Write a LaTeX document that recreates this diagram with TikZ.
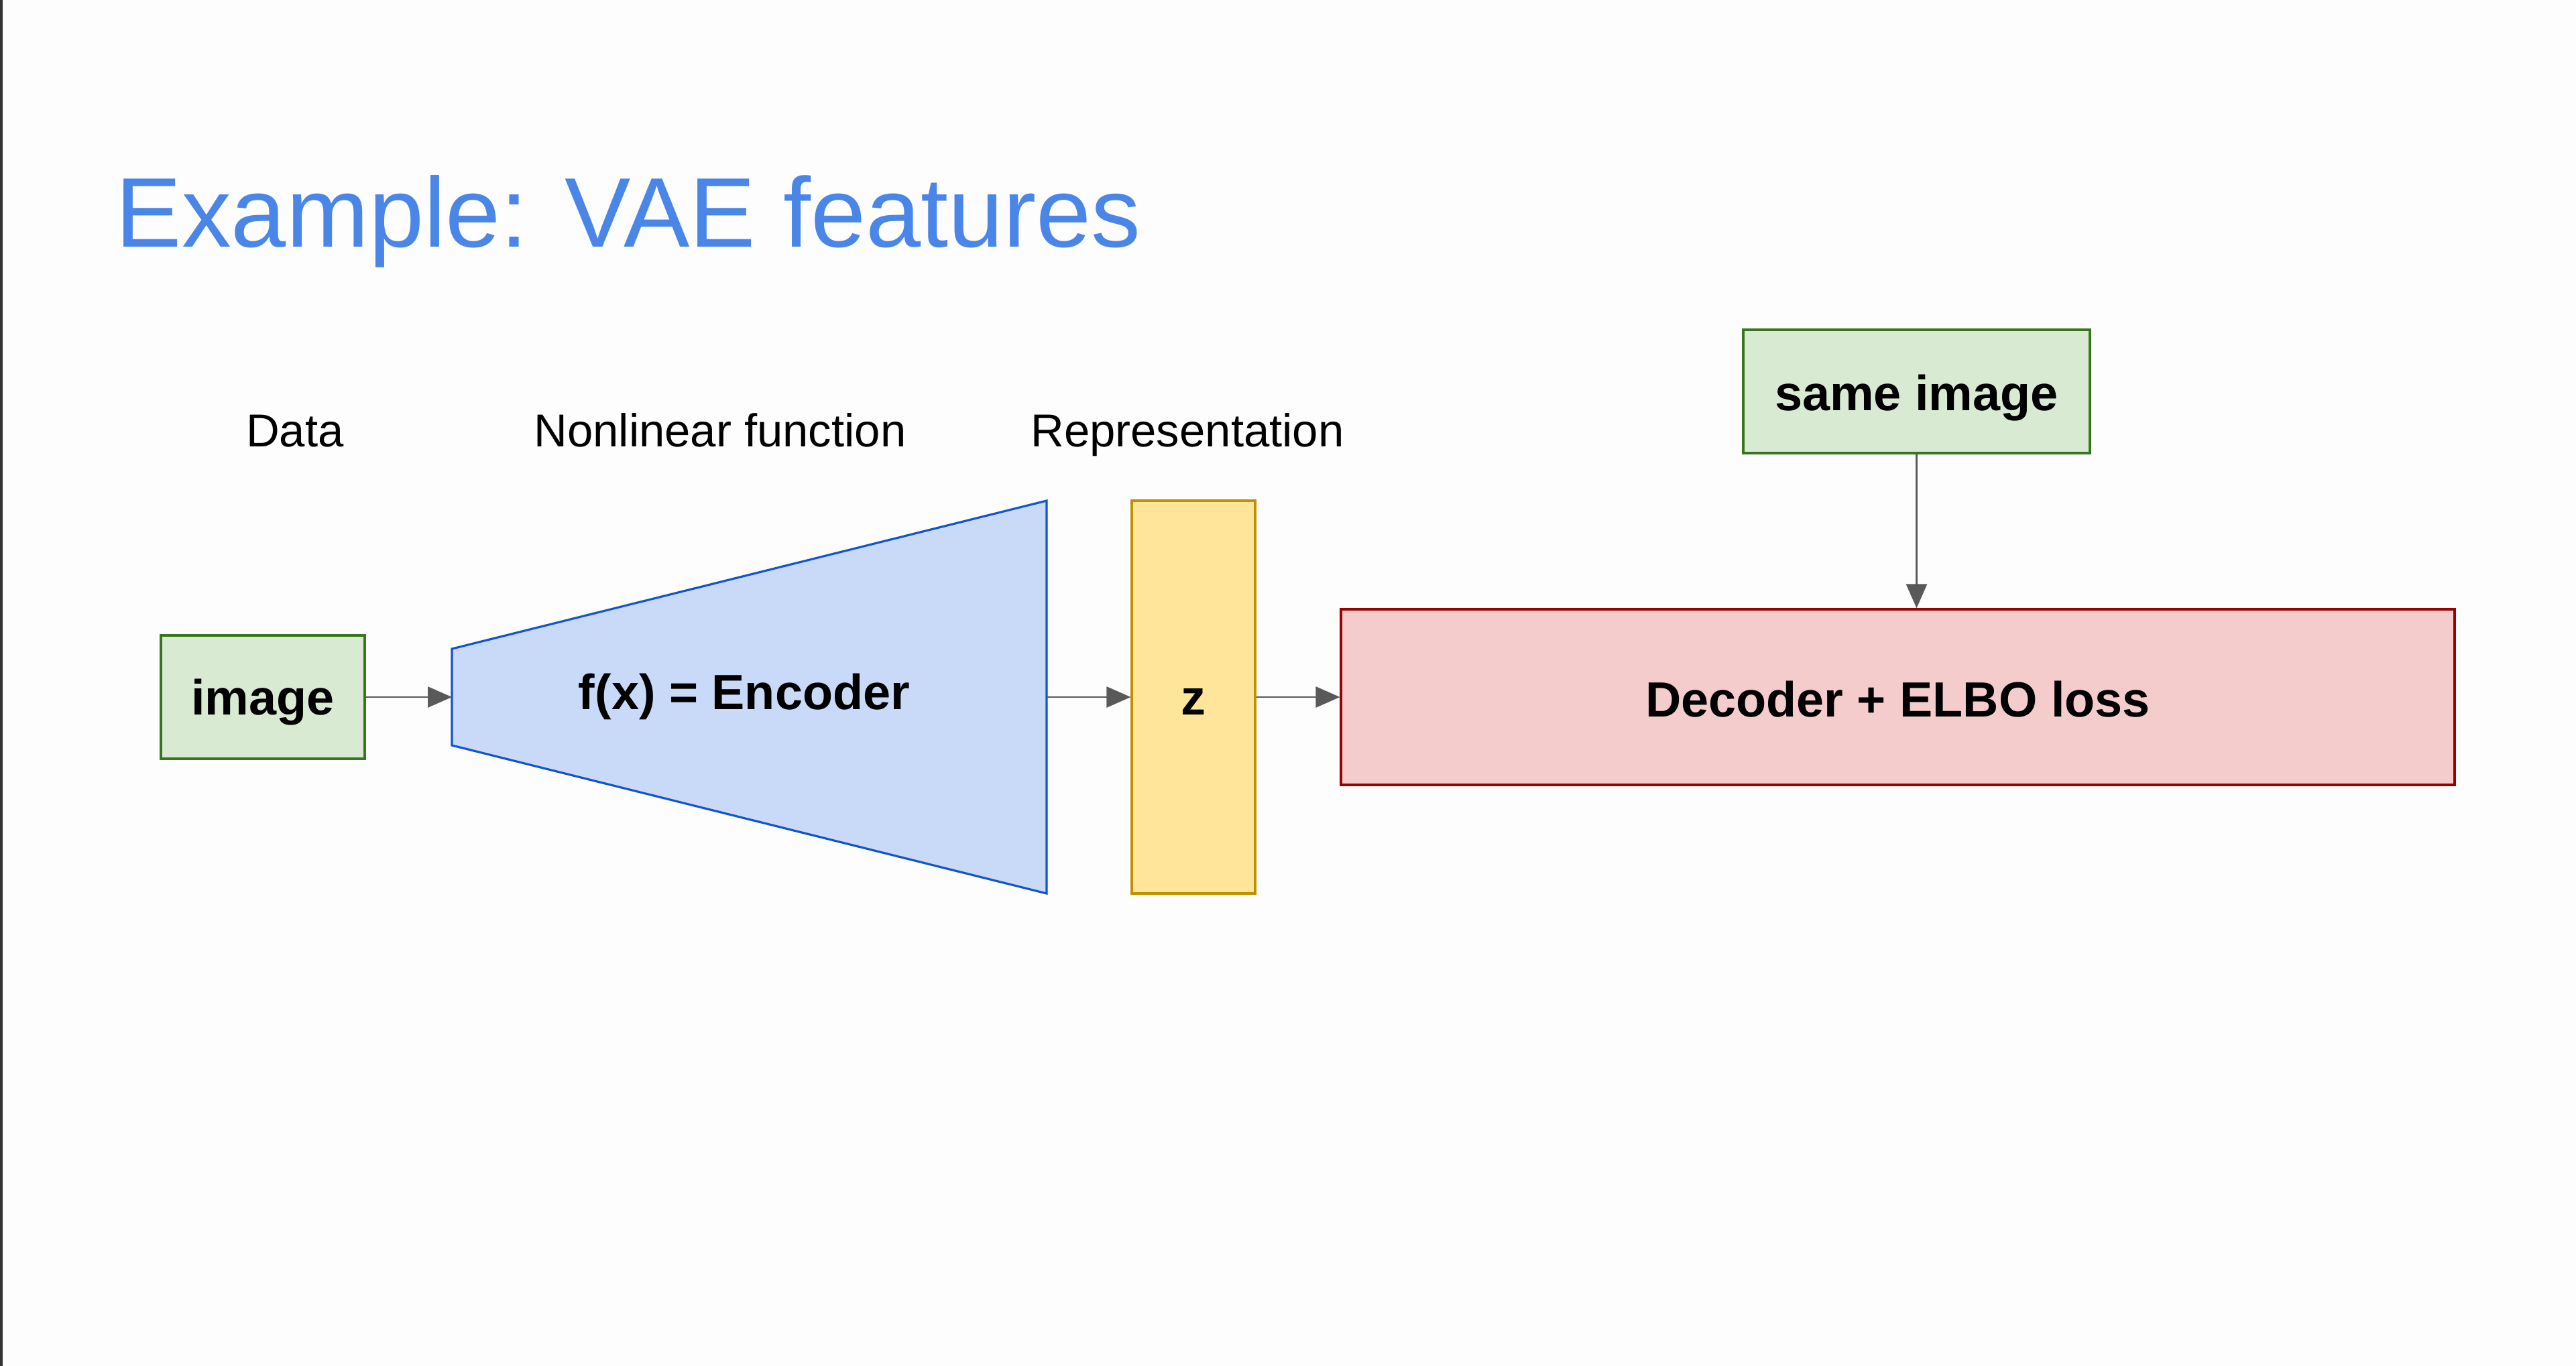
\documentclass[tikz,border=0pt]{standalone}
\usepackage{fontspec}
\setmainfont{Liberation Sans}
\usetikzlibrary{arrows.meta}
\definecolor{bgc}{HTML}{FDFDFD}
\definecolor{edgeline}{HTML}{333333}
\definecolor{titleblue}{HTML}{4A86E8}
\definecolor{gfill}{HTML}{D9EAD3}
\definecolor{gdraw}{HTML}{38761D}
\definecolor{bfill}{HTML}{C9DAF8}
\definecolor{bdraw}{HTML}{1155CC}
\definecolor{yfill}{HTML}{FFE599}
\definecolor{ydraw}{HTML}{BF9000}
\definecolor{rfill}{HTML}{F4CCCC}
\definecolor{rdraw}{HTML}{990000}
\definecolor{arrowgray}{HTML}{595959}
\tikzset{
  boxbase/.style={draw, line width=0.9pt, inner sep=0pt},
  greenbox/.style={boxbase, draw=gdraw, fill=gfill},
  yellowbox/.style={boxbase, draw=ydraw, fill=yfill},
  redbox/.style={boxbase, draw=rdraw, fill=rfill},
  boxtext/.style={font=\fontsize{21}{25}\selectfont\bfseries, inner sep=0pt},
  encshape/.style={draw=bdraw, fill=bfill, line width=0.9pt, line join=miter},
  conn/.style={draw=arrowgray, line width=0.75pt, -{Triangle[length=0.36cm,width=0.31cm]}},
  collabel/.style={font=\fontsize{19.6}{23}\selectfont, anchor=base, inner sep=0pt},
  titletext/.style={font=\fontsize{42}{50}\selectfont, text=titleblue, anchor=base west, inner sep=0pt}
}
\begin{document}
\begin{tikzpicture}[x=1cm,y=1cm]
\fill[bgc] (0,0) rectangle (38.42,-20.38);
\useasboundingbox (0,0) rectangle (38.42,-20.38);
\fill[edgeline] (0,0) rectangle (0.035,-20.38);

\node[titletext] (title) at (1.72,-3.68) {Example: VAE features};

\node[collabel] (data) at (4.40,-6.66) {Data};
\node[collabel] (nonlin) at (10.74,-6.66) {Nonlinear function};
\node[collabel] (repr) at (17.71,-6.66) {Representation};

\node[greenbox, minimum width=3.04cm, minimum height=1.84cm] (img) at (3.92,-10.40) {};
\node[boxtext] (imgt) at ([yshift=-0.08cm]img.center) {image};

\draw[encshape] (6.74,-9.68) -- (15.61,-7.47) -- (15.61,-13.33) -- (6.74,-11.12) -- cycle;
\coordinate (encL) at (6.74,-10.40);
\coordinate (encR) at (15.61,-10.40);
\node[boxtext] (enc) at (11.10,-10.39) {f(x) = Encoder};

\node[yellowbox, minimum width=1.84cm, minimum height=5.86cm] (z) at (17.80,-10.40) {};
\node[boxtext] (zt) at ([yshift=-0.07cm]z.center) {z};

\node[redbox, minimum width=16.61cm, minimum height=2.62cm] (dec) at (28.305,-10.40) {};
\node[boxtext] (dect) at ([yshift=-0.03cm]dec.center) {Decoder + ELBO loss};

\node[greenbox, minimum width=5.17cm, minimum height=1.84cm] (same) at (28.585,-5.84) {};
\node[boxtext] (samet) at ([yshift=-0.10cm]same.center) {same image};

\draw[conn] (img.east) -- (encL);
\draw[conn] (encR) -- (z.west);
\draw[conn] (z.east) -- (dec.west);
\draw[conn] (same.south) -- (same.south |- dec.north);
\end{tikzpicture}
\end{document}
